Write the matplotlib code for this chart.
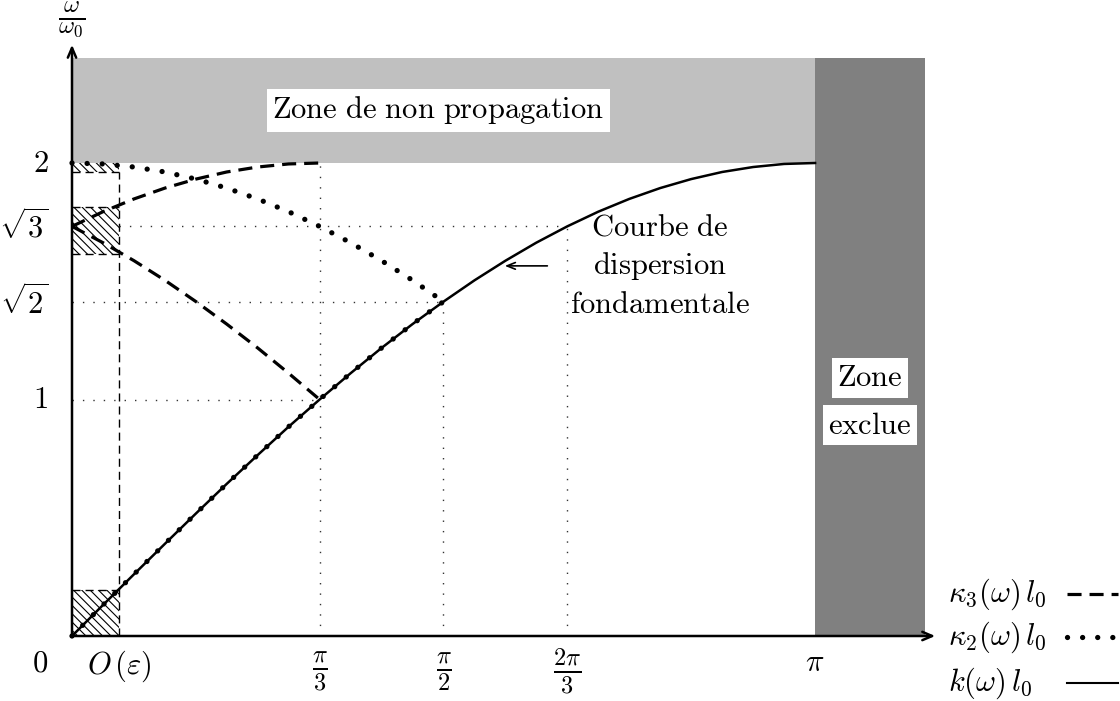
import numpy as np
import matplotlib
matplotlib.use("Agg")
import matplotlib.pyplot as plt
from matplotlib.patches import Rectangle

plt.rcParams['mathtext.fontset'] = 'cm'
plt.rcParams['hatch.linewidth'] = 0.8

# fundamental dispersion curve  k(w) l0 -> w/w0
k_main = [0, 0.131, 0.262, 0.393, 0.524, 0.654, 0.785, 0.916, 1.047, 1.178, 1.309, 1.440, 1.571,
          1.702, 1.833, 1.963, 2.094, 2.225, 2.356, 2.487, 2.618, 2.749, 2.880, 3.011, 3.142]
w_main = [0, 0.131, 0.261, 0.390, 0.518, 0.643, 0.765, 0.885, 1.0, 1.111, 1.218, 1.319, 1.414,
          1.504, 1.587, 1.663, 1.732, 1.794, 1.848, 1.894, 1.932, 1.962, 1.983, 1.996, 2.0]

# kappa_2 branch (dotted)
k2 = [0, 0.131, 0.262, 0.393, 0.524, 0.654, 0.785, 0.916, 1.047, 1.178, 1.309, 1.440, 1.571]
w2_low = [0, 0.131, 0.261, 0.390, 0.518, 0.643, 0.765, 0.885, 1.0, 1.111, 1.218, 1.319, 1.414]
w2_up = [2.0, 1.996, 1.983, 1.962, 1.932, 1.894, 1.848, 1.794, 1.732, 1.663, 1.587, 1.504, 1.414]

# kappa_3 branches (dashed)
k3 = [0, 0.131, 0.262, 0.393, 0.524, 0.654, 0.785, 0.916, 1.047]
w3_up = [1.732, 1.794, 1.848, 1.894, 1.932, 1.962, 1.983, 1.996, 2.0]
w3_down = [1.732, 1.663, 1.587, 1.504, 1.414, 1.319, 1.218, 1.111, 1.0]

eps = 0.2
w_top = 2.445
k_excl = 3.607

xtick_pos = [eps, np.pi/3, np.pi/2, 2*np.pi/3, np.pi]
xtick_lab = [r'$O\,(\varepsilon)$', r'$\frac{\pi}{3}$', r'$\frac{\pi}{2}$', r'$\frac{2\pi}{3}$', r'$\pi$']
ytick_pos = [0, 1, np.sqrt(2), np.sqrt(3), 2]
ytick_lab = ['$0$', '$1$', r'$\sqrt{2}$', r'$\sqrt{3}$', '$2$']

s = 236.5  # px per unit
fig = plt.figure(figsize=(11.2, 7.01), dpi=100)
ax = fig.add_axes([0, 0, 1, 1])
ax.set_xlim(-72/s, (1120-72)/s)
ax.set_ylim((636-701)/s, 636/s)
ax.axis('off')

fs = 22
fs_frac = 25

# zones
ax.add_patch(Rectangle((0, 2), np.pi, w_top-2, facecolor='#c0c0c0', edgecolor='none', zorder=0))
ax.add_patch(Rectangle((np.pi, 0), k_excl-np.pi, w_top, facecolor='#808080', edgecolor='none', zorder=0))

# hatched boxes
for y0, y1 in [(0, 0.195), (1.615, 1.814), (1.962, 2.0)]:
    ax.add_patch(Rectangle((0, y0), eps, y1-y0, facecolor='none', edgecolor='black',
                           lw=0, hatch='\\\\\\\\', zorder=1))
thin = dict(color='black', lw=1.0, ls=(0, (5.8, 3.6)), zorder=2)
ax.plot([eps, eps], [0, 1.962], **thin)
for yy in [0.195, 1.615, 1.814, 1.962]:
    ax.plot([0, eps], [yy, yy], **thin)

# dotted guides
grid = dict(color='0.2', lw=1.0, ls=(0, (1, 6.5)), zorder=2)
ax.plot([eps, 2*np.pi/3], [np.sqrt(3)]*2, **grid)
ax.plot([0, np.pi/2], [np.sqrt(2)]*2, **grid)
ax.plot([0, np.pi/3], [1, 1], **grid)
ax.plot([np.pi/3]*2, [0, 2], **grid)
ax.plot([np.pi/2]*2, [0, np.sqrt(2)], **grid)
ax.plot([2*np.pi/3]*2, [0, np.sqrt(3)], **grid)

# curves
dots = dict(color='black', lw=3.8, ls=(0, (0.01, 2.85)), dash_capstyle='round', zorder=4)
dash = dict(color='black', lw=2.3, ls=(0, (4.4, 2.5)), zorder=4)
ax.plot(k_main, w_main, color='black', lw=1.8, zorder=3)
ax.plot(k2, w2_low, **dots)
ax.plot(k2, w2_up, **dots)
ax.plot(k3, w3_up, **dash)
ax.plot(k3, w3_down, **dash)

# axes
arr = dict(arrowstyle='->,head_length=0.35,head_width=0.15', lw=1.8, color='black',
           mutation_scale=20, shrinkA=0, shrinkB=0)
ax.annotate('', xy=(3.65, 0), xytext=(-0.004, 0), arrowprops=arr, zorder=5)
ax.annotate('', xy=(0, 2.50), xytext=(0, -0.004), arrowprops=arr, zorder=5)

# tick labels
for x, lab in zip(xtick_pos, xtick_lab):
    if lab == r'$\pi$':
        ax.text(x, -0.11, lab, fontsize=fs, ha='center', va='center')
    elif 'frac' in lab:
        ax.text(x, -0.15, lab, fontsize=fs_frac, ha='center', va='center')
    else:
        ax.text(x, -0.13, lab, fontsize=fs, ha='center', va='center')
for y, lab in zip(ytick_pos, ytick_lab):
    yy = -0.114 if lab == '$0$' else y
    ax.text(-0.1, yy, lab, fontsize=fs, ha='right', va='center')
ax.text(0, (636-20)/s, r'$\frac{\omega}{\omega_0}$', fontsize=fs_frac, ha='center', va='center')

# annotations
box = dict(facecolor='white', edgecolor='none', pad=4)
ax.text(1.548, 2.224, r'$\mathrm{Zone\ de\ non\ propagation}$', fontsize=fs,
        ha='center', va='center', bbox=box, zorder=6)
ax.text(3.374, 1.091, r'$\mathrm{Zone}$', fontsize=fs, ha='center', va='center', bbox=box, zorder=6)
ax.text(3.374, 0.892, r'$\mathrm{exclue}$', fontsize=fs, ha='center', va='center', bbox=box, zorder=6)
ax.text(2.486, 1.565, '$\\mathrm{Courbe\\ de}$\n$\\mathrm{dispersion}$\n$\\mathrm{fondamentale}$',
        fontsize=fs, ha='center', va='center', multialignment='center', linespacing=1.35, zorder=6)
ax.annotate('', xy=(1.83, 1.565), xytext=(2.01, 1.565),
            arrowprops=dict(arrowstyle='->,head_length=0.3,head_width=0.12', lw=1.2,
                            mutation_scale=20, shrinkA=0, shrinkB=0))

# legend
leg_lab = [r'$\kappa_3(\omega)\,l_0$', r'$\kappa_2(\omega)\,l_0$', r'$k(\omega)\,l_0$']
leg_y = [(636-594)/s, (636-637)/s, (636-683)/s]
leg_sty = [dash, dots, dict(color='black', lw=1.5)]
for lab, yy, st in zip(leg_lab, leg_y, leg_sty):
    ax.text(3.704, yy, lab, fontsize=fs, ha='left', va='center')
    ax.plot([4.207, 4.423], [yy, yy], **st)

fig.savefig('out.png', dpi=100)
